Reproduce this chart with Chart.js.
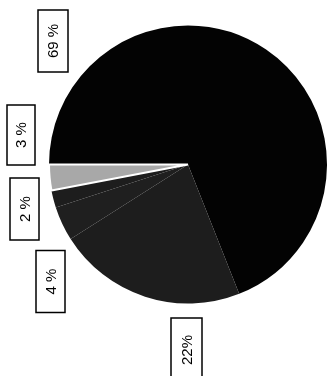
<!DOCTYPE html>
<html>
<head>
<meta charset="utf-8">
<script src="https://cdn.jsdelivr.net/npm/chart.js@4"></script>
<style>
  html, body { margin: 0; padding: 0; background: #fff; }
  #wrap { width: 328px; height: 376px; }
</style>
</head>
<body>
<div id="wrap"><canvas id="pie" width="328" height="376"></canvas></div>
<script>
// slice values, clockwise from the 9 o'clock line
const shares = [69, 22, 4, 2, 3];
const shareLabels = ['69 %', '22%', '4 %', '2 %', '3 %'];
const sliceColors = ['#030303', '#1d1d1d', '#1f1f1f', '#1d1d1d', '#a8a8a8'];

// label box placement (center x/y, width, height), same order as shares
const boxes = [
  {x: 53, y: 41, w: 30, h: 62},
  {x: 186.5, y: 350, w: 31, h: 64},
  {x: 50.5, y: 281.5, w: 29, h: 62},
  {x: 24.5, y: 209, w: 29, h: 62},
  {x: 21, y: 135, w: 28, h: 60}
];

const labelBoxes = {
  id: 'labelBoxes',
  afterDraw(chart) {
    const ctx = chart.ctx;
    ctx.save();
    ctx.strokeStyle = '#000';
    ctx.lineWidth = 1.5;
    ctx.fillStyle = '#000';
    ctx.font = '15px "Liberation Sans", Arial, sans-serif';
    ctx.textAlign = 'center';
    ctx.textBaseline = 'middle';
    boxes.forEach((b, i) => {
      ctx.strokeRect(b.x - b.w / 2, b.y - b.h / 2, b.w, b.h);
      ctx.save();
      ctx.translate(b.x, b.y);
      ctx.rotate(-Math.PI / 2);
      ctx.fillText(shareLabels[i], 0, 1);
      ctx.restore();
    });
    ctx.restore();
  }
};

const canvas = document.getElementById('pie');
const grafico = new Chart(canvas, {
  type: 'pie',
  data: {
    labels: shareLabels,
    datasets: [{
      data: shares,
      backgroundColor: sliceColors,
      borderColor: '#ffffff',
      borderWidth: [0, 0, 0, 0, 2]
    }]
  },
  options: {
    responsive: false,
    animation: false,
    rotation: 270,
    layout: { padding: { left: 48, right: 0, top: 24, bottom: 71 } },
    plugins: {
      legend: { display: false },
      tooltip: { enabled: false }
    }
  },
  plugins: [labelBoxes]
});
</script>
</body>
</html>
